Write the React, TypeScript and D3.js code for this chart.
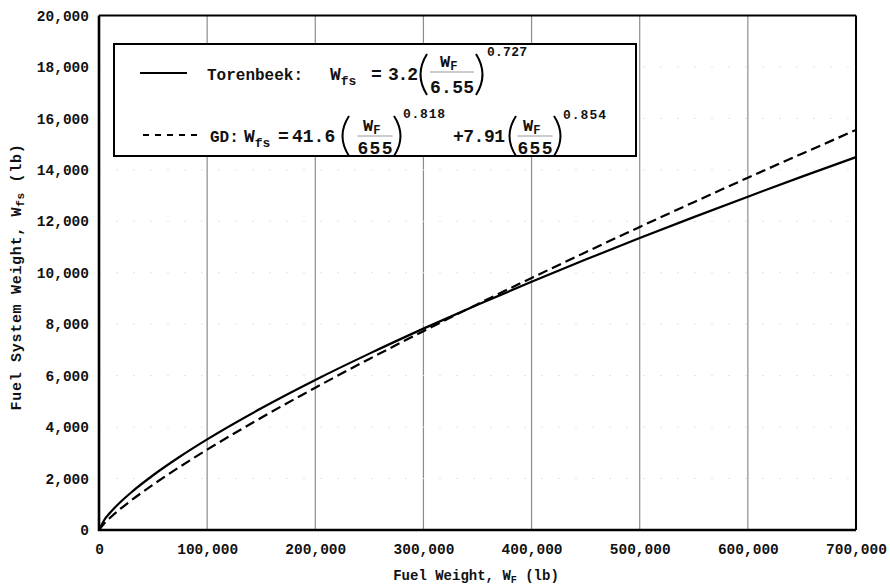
import React, { useEffect, useRef } from "react";
import * as d3 from "d3";

// values (lb)
const fuelWeight = [0, 5000, 10000, 20000, 30000, 50000, 75000, 100000, 150000, 200000, 250000, 300000, 350000, 400000, 450000, 500000, 550000, 600000, 650000, 700000];
const torenbeek = [0, 399, 660, 1093, 1468, 2128, 2858, 3524, 4731, 5833, 6856, 7828, 8757, 9649, 10512, 11350, 12163, 12958, 13736, 14495];
const gd = [0, 264, 468, 828, 1157, 1763, 2464, 3123, 4363, 5532, 6651, 7730, 8779, 9798, 10797, 11781, 12744, 13694, 14627, 15550];

const xTicks = [0, 100000, 200000, 300000, 400000, 500000, 600000, 700000];
const yTicks = [0, 2000, 4000, 6000, 8000, 10000, 12000, 14000, 16000, 18000, 20000];

const FONT = "'Liberation Mono', 'Courier New', monospace";

function Paren({ x, top, bottom, dir }: { x: number; top: number; bottom: number; dir: number }) {
  // dir -1 = "(", 1 = ")"
  const mid = (top + bottom) / 2;
  return (
    <path
      d={`M${x},${top} Q${x + dir * 13},${mid} ${x},${bottom}`}
      fill="none"
      stroke="#000"
      strokeWidth={2}
    />
  );
}

function Fraction({ cx, num, bar, den, denText, denLen }: { cx: number; num: number; bar: number; den: number; denText: string; denLen: number }) {
  return (
    <g>
      <text x={cx - 12} y={num} fontSize={17}>
        W<tspan fontSize={12} dy={3}>F</tspan>
      </text>
      <line x1={cx - denLen / 2} x2={cx + denLen / 2} y1={bar} y2={bar} stroke="#999" strokeWidth={1} />
      <text x={cx - denLen / 2} y={den} fontSize={18} textLength={denLen} lengthAdjust="spacing">
        {denText}
      </text>
    </g>
  );
}

function Chart() {
  const svgRef = useRef<SVGSVGElement>(null);

  useEffect(() => {
    const svg = d3.select(svgRef.current);
    const x = d3.scaleLinear().domain([0, 700000]).range([99, 856]);
    const y = d3.scaleLinear().domain([0, 20000]).range([530, 15.5]);

    const grid = svg.select(".grid");
    grid.selectAll("*").remove();
    grid
      .selectAll(".vgrid")
      .data(xTicks.slice(1, -1))
      .enter()
      .append("line")
      .attr("x1", (d) => x(d))
      .attr("x2", (d) => x(d))
      .attr("y1", y(20000))
      .attr("y2", y(0))
      .attr("stroke", "#8c8c8c")
      .attr("stroke-width", 1.2);
    grid
      .selectAll(".hgrid")
      .data(yTicks.slice(1, -1))
      .enter()
      .append("line")
      .attr("x1", x(0))
      .attr("x2", x(700000))
      .attr("y1", (d) => y(d))
      .attr("y2", (d) => y(d))
      .attr("stroke", "#e4e4e4")
      .attr("stroke-width", 1)
      .attr("stroke-dasharray", "2 15");

    const line = d3
      .line<number>()
      .x((d, i) => x(fuelWeight[i]))
      .y((d) => y(d))
      .curve(d3.curveMonotoneX);

    const curves = svg.select(".curves");
    curves.selectAll("*").remove();
    curves
      .append("path")
      .attr("d", line(torenbeek))
      .attr("fill", "none")
      .attr("stroke", "#000")
      .attr("stroke-width", 2.2);
    curves
      .append("path")
      .attr("d", line(gd))
      .attr("fill", "none")
      .attr("stroke", "#000")
      .attr("stroke-width", 2.2)
      .attr("stroke-dasharray", "10 5");

    const fmt = d3.format(",");
    const yAxis = d3.axisLeft(y).tickValues(yTicks).tickSize(0).tickPadding(10).tickFormat((d) => fmt(d as number));
    const xAxis = d3.axisBottom(x).tickValues(xTicks).tickSize(0).tickPadding(14).tickFormat((d) => fmt(d as number));

    svg
      .select(".y-axis")
      .attr("transform", `translate(${x(0)},0)`)
      .call(yAxis as any)
      .call((g: any) => g.select(".domain").remove())
      .call((g: any) =>
        g.selectAll("text").attr("font-family", FONT).attr("font-weight", "bold").attr("font-size", 14.5).attr("fill", "#111")
      );
    svg
      .select(".x-axis")
      .attr("transform", `translate(0,${y(0)})`)
      .call(xAxis as any)
      .call((g: any) => g.select(".domain").remove())
      .call((g: any) =>
        g.selectAll("text").attr("font-family", FONT).attr("font-weight", "bold").attr("font-size", 14.5).attr("fill", "#111")
      );

    const frame = svg.select(".frame");
    frame.selectAll("*").remove();
    frame
      .append("line")
      .attr("x1", x(0)).attr("x2", x(700000)).attr("y1", y(20000)).attr("y2", y(20000))
      .attr("stroke", "#000").attr("stroke-width", 2);
    frame
      .append("line")
      .attr("x1", x(700000)).attr("x2", x(700000)).attr("y1", y(20000)).attr("y2", y(0))
      .attr("stroke", "#000").attr("stroke-width", 2);
    frame
      .append("line")
      .attr("x1", x(0)).attr("x2", x(0)).attr("y1", y(20000)).attr("y2", y(0) + 1)
      .attr("stroke", "#000").attr("stroke-width", 2.6);
    frame
      .append("line")
      .attr("x1", x(0) - 1).attr("x2", x(700000)).attr("y1", y(0)).attr("y2", y(0))
      .attr("stroke", "#000").attr("stroke-width", 2.6);
  }, []);

  return (
    <svg
      ref={svgRef}
      width={890}
      height={586}
      style={{ position: "absolute", left: 0, top: 0, background: "#fff" }}
      fontFamily={FONT}
      fontWeight="bold"
    >
      <rect width={890} height={586} fill="#fff" />
      <g className="grid" />
      <g className="curves" />
      <g className="x-axis" />
      <g className="y-axis" />

      {/* legend */}
      <g className="legend" fill="#111">
        <rect x={114} y={44} width={522} height={112} fill="#fff" stroke="#000" strokeWidth={2} />

        <line x1={140} x2={187} y1={73} y2={73} stroke="#000" strokeWidth={1.8} />
        <text x={207} y={80} fontSize={16}>Torenbeek:</text>
        <text x={330} y={80} fontSize={18}>
          W<tspan fontSize={13} dy={5}>fs</tspan>
        </text>
        <text x={371} y={80} fontSize={18}>=</text>
        <text x={388} y={80} fontSize={18} textLength={30} lengthAdjust="spacing">3.2</text>
        <Paren x={427} top={54} bottom={95} dir={-1} />
        <Fraction cx={452} num={67} bar={72} den={93} denText="6.55" denLen={44} />
        <Paren x={476} top={54} bottom={95} dir={1} />
        <text x={487} y={56} fontSize={13} textLength={40} lengthAdjust="spacing">0.727</text>

        <line x1={143} x2={198} y1={135} y2={135} stroke="#000" strokeWidth={1.8} strokeDasharray="6 6" />
        <text x={210} y={142} fontSize={16}>GD:</text>
        <text x={244} y={142} fontSize={18}>
          W<tspan fontSize={13} dy={5}>fs</tspan>
        </text>
        <text x={278} y={142} fontSize={18}>=</text>
        <text x={292} y={142} fontSize={18}>41.6</text>
        <Paren x={349} top={116} bottom={156} dir={-1} />
        <Fraction cx={375} num={131} bar={136} den={154} denText="655" denLen={35} />
        <Paren x={394} top={116} bottom={156} dir={1} />
        <text x={403} y={118} fontSize={13} textLength={42} lengthAdjust="spacing">0.818</text>
        <text x={453} y={142} fontSize={18} textLength={52} lengthAdjust="spacing">+7.91</text>
        <Paren x={516} top={116} bottom={156} dir={-1} />
        <Fraction cx={535} num={131} bar={136} den={154} denText="655" denLen={35} />
        <Paren x={554} top={116} bottom={156} dir={1} />
        <text x={563} y={119} fontSize={13} textLength={43} lengthAdjust="spacing">0.854</text>
      </g>

      <g className="frame" />

      {/* axis titles */}
      <text x={476} y={580} fontSize={14} textAnchor="middle" fill="#111">
        Fuel Weight, W<tspan fontSize={10} dy={3}>F</tspan>
        <tspan dy={-3}> (lb)</tspan>
      </text>
      <text
        transform="translate(21,277) rotate(-90)"
        fontSize={15}
        textAnchor="middle"
        letterSpacing={0.7}
        fill="#111"
      >
        Fuel System Weight, W<tspan fontSize={11} dy={3}>fs</tspan>
        <tspan dy={-3}> (lb)</tspan>
      </text>
    </svg>
  );
}

export default function App() {
  return <Chart />;
}
